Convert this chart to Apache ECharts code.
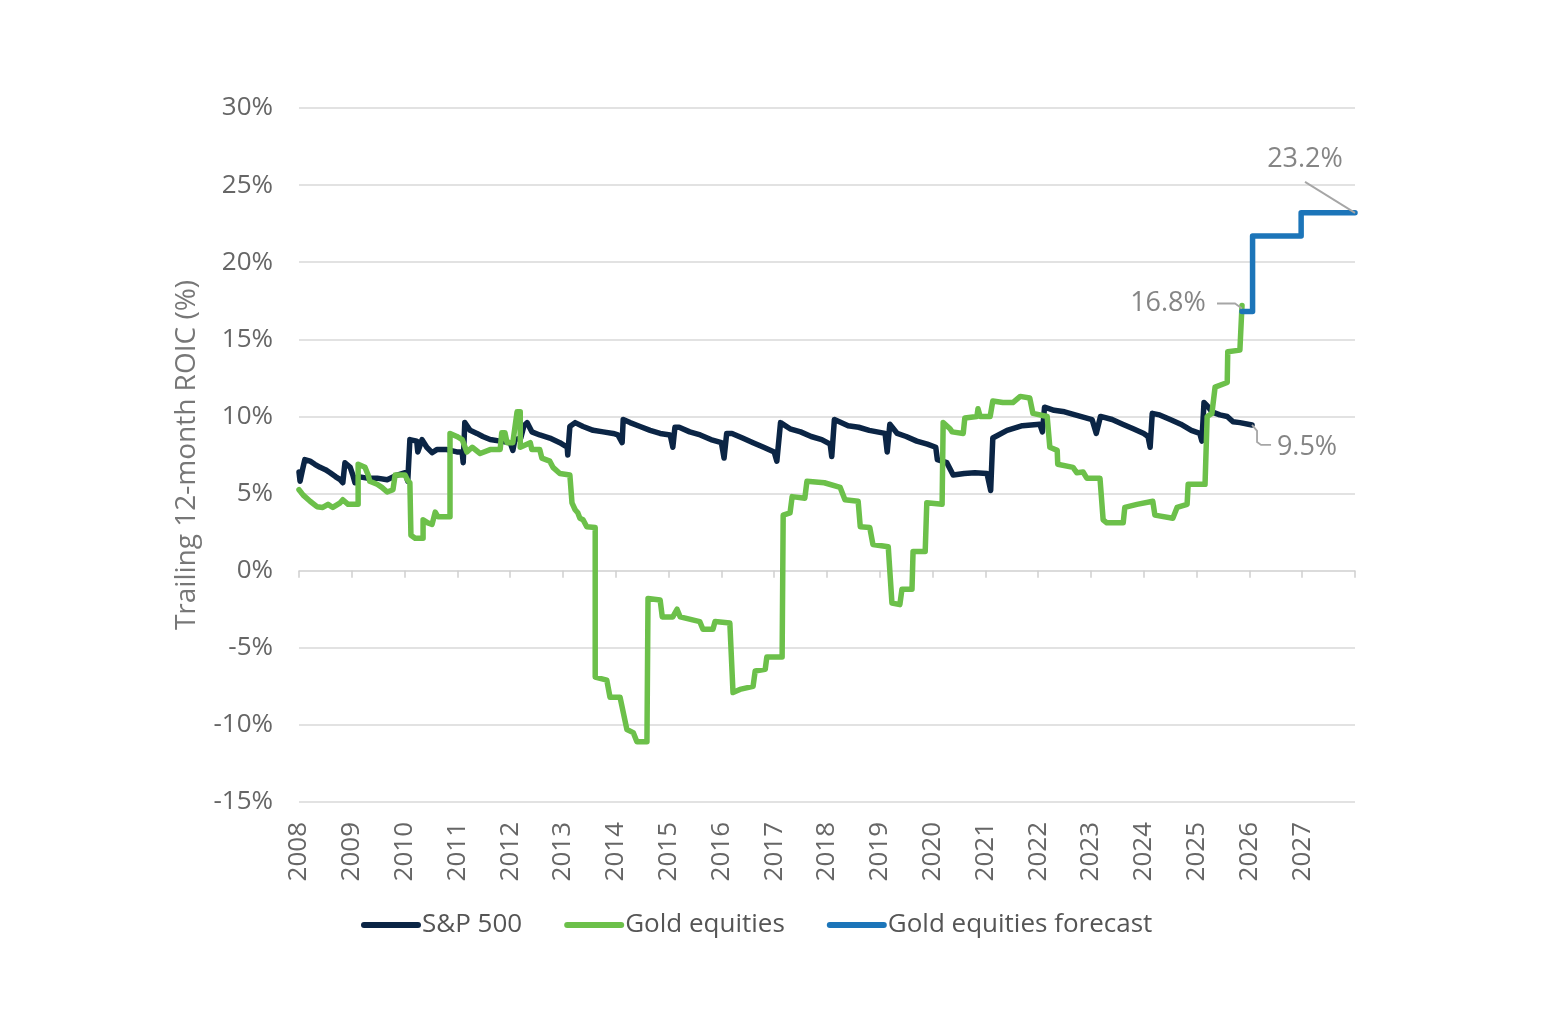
<!DOCTYPE html>
<html>
<head>
<meta charset="utf-8">
<script src="https://cdn.jsdelivr.net/npm/echarts@6/dist/echarts.min.js"></script>
<style>
html,body{margin:0;padding:0;background:#fff;}
#chart{width:1545px;height:1020px;}
</style>
</head>
<body>
<div id="chart"></div>
<script>
// ---- Data (year fraction, ROIC %) ----
const sp500 = [
[2008.00,6.4],[2008.02,5.8],[2008.07,6.6],[2008.11,7.2],[2008.21,7.1],[2008.30,6.9],[2008.40,6.7],[2008.50,6.55],[2008.59,6.35],[2008.69,6.1],[2008.78,5.9],[2008.83,5.7],[2008.87,7.0],[2008.97,6.7],[2009.02,6.2],[2009.06,5.7],[2009.12,6.1],[2009.29,6.0],[2009.48,6.0],[2009.67,5.9],[2009.86,6.2],[2010.01,6.35],[2010.06,5.8],[2010.10,8.5],[2010.23,8.4],[2010.25,7.7],[2010.33,8.5],[2010.42,8.0],[2010.52,7.65],[2010.61,7.85],[2010.80,7.85],[2010.99,7.7],[2011.09,7.7],[2011.11,7.0],[2011.14,9.6],[2011.24,9.1],[2011.37,8.9],[2011.48,8.7],[2011.62,8.5],[2011.81,8.4],[2012.00,8.3],[2012.05,7.8],[2012.09,8.5],[2012.20,8.6],[2012.26,9.4],[2012.32,9.6],[2012.41,9.0],[2012.56,8.8],[2012.75,8.6],[2012.94,8.3],[2013.08,8.0],[2013.09,7.5],[2013.13,9.35],[2013.23,9.6],[2013.38,9.35],[2013.57,9.1],[2013.76,9.0],[2013.95,8.9],[2014.04,8.8],[2014.12,8.3],[2014.14,9.8],[2014.27,9.6],[2014.46,9.35],[2014.65,9.1],[2014.84,8.9],[2015.03,8.8],[2015.08,8.0],[2015.12,9.3],[2015.20,9.3],[2015.40,9.0],[2015.60,8.8],[2015.80,8.5],[2016.00,8.3],[2016.05,7.3],[2016.10,8.9],[2016.20,8.9],[2016.40,8.6],[2016.60,8.3],[2016.80,8.0],[2017.00,7.7],[2017.05,7.1],[2017.12,9.6],[2017.30,9.2],[2017.50,9.0],[2017.70,8.7],[2017.90,8.5],[2018.06,8.2],[2018.09,7.4],[2018.14,9.8],[2018.40,9.4],[2018.60,9.3],[2018.80,9.1],[2019.10,8.9],[2019.14,7.7],[2019.19,9.5],[2019.33,8.9],[2019.50,8.7],[2019.70,8.4],[2019.90,8.2],[2020.06,8.0],[2020.09,7.2],[2020.27,7.0],[2020.39,6.2],[2020.60,6.3],[2020.80,6.35],[2021.03,6.3],[2021.10,5.2],[2021.14,8.6],[2021.41,9.1],[2021.70,9.4],[2022.03,9.5],[2022.08,9.0],[2022.12,10.6],[2022.30,10.4],[2022.50,10.3],[2022.70,10.1],[2023.02,9.8],[2023.10,8.9],[2023.18,10.0],[2023.40,9.8],[2023.60,9.5],[2023.80,9.2],[2024.00,8.9],[2024.08,8.7],[2024.12,8.0],[2024.16,10.2],[2024.30,10.1],[2024.50,9.8],[2024.70,9.5],[2024.90,9.1],[2025.06,8.9],[2025.10,8.4],[2025.14,10.9],[2025.20,10.7],[2025.29,10.3],[2025.44,10.1],[2025.58,10.0],[2025.69,9.65],[2025.82,9.6],[2026.05,9.45]
];

const goldEquities = [
[2008.00,5.25],[2008.08,4.9],[2008.21,4.5],[2008.34,4.15],[2008.45,4.1],[2008.55,4.3],[2008.64,4.1],[2008.78,4.4],[2008.83,4.6],[2008.93,4.3],[2009.12,4.3],[2009.12,6.9],[2009.25,6.7],[2009.31,6.2],[2009.34,5.8],[2009.48,5.6],[2009.57,5.4],[2009.67,5.1],[2009.78,5.25],[2009.82,6.2],[2010.01,6.2],[2010.05,5.9],[2010.10,5.7],[2010.12,2.3],[2010.20,2.1],[2010.35,2.1],[2010.35,3.3],[2010.44,3.1],[2010.52,3.0],[2010.58,3.8],[2010.63,3.5],[2010.86,3.5],[2010.86,8.9],[2010.99,8.7],[2011.09,8.5],[2011.18,7.7],[2011.28,8.0],[2011.43,7.6],[2011.62,7.85],[2011.81,7.85],[2011.84,8.95],[2011.90,8.95],[2011.94,8.3],[2012.05,8.3],[2012.13,10.3],[2012.19,10.3],[2012.19,8.0],[2012.38,8.3],[2012.41,7.85],[2012.56,7.85],[2012.60,7.3],[2012.75,7.1],[2012.81,6.7],[2012.94,6.3],[2013.13,6.2],[2013.17,4.4],[2013.23,3.95],[2013.28,3.75],[2013.32,3.4],[2013.38,3.3],[2013.45,2.85],[2013.61,2.8],[2013.61,-6.9],[2013.83,-7.1],[2013.89,-8.2],[2014.08,-8.2],[2014.21,-10.3],[2014.33,-10.5],[2014.40,-11.1],[2014.59,-11.1],[2014.61,-1.8],[2014.84,-1.9],[2014.88,-3.0],[2015.08,-3.0],[2015.16,-2.5],[2015.22,-3.0],[2015.59,-3.3],[2015.65,-3.8],[2015.84,-3.8],[2015.88,-3.3],[2016.16,-3.4],[2016.22,-7.9],[2016.35,-7.7],[2016.60,-7.5],[2016.64,-6.5],[2016.83,-6.4],[2016.86,-5.6],[2017.15,-5.6],[2017.17,3.6],[2017.30,3.75],[2017.34,4.8],[2017.58,4.7],[2017.62,5.8],[2017.95,5.7],[2018.25,5.4],[2018.34,4.6],[2018.59,4.5],[2018.63,2.85],[2018.81,2.8],[2018.87,1.7],[2019.16,1.55],[2019.23,-2.1],[2019.38,-2.2],[2019.42,-1.2],[2019.61,-1.2],[2019.63,1.25],[2019.86,1.25],[2019.89,4.4],[2020.18,4.3],[2020.20,9.6],[2020.33,9.2],[2020.37,9.0],[2020.58,8.9],[2020.61,9.9],[2020.84,10.0],[2020.86,10.5],[2020.90,10.0],[2021.09,10.0],[2021.14,11.0],[2021.33,10.9],[2021.52,10.9],[2021.66,11.3],[2021.84,11.2],[2021.90,10.2],[2022.17,10.0],[2022.22,8.0],[2022.36,7.8],[2022.37,6.9],[2022.66,6.7],[2022.73,6.35],[2022.85,6.4],[2022.92,6.0],[2023.17,6.0],[2023.23,3.3],[2023.30,3.1],[2023.61,3.1],[2023.64,4.1],[2023.87,4.3],[2024.17,4.5],[2024.21,3.6],[2024.55,3.4],[2024.63,4.1],[2024.82,4.3],[2024.84,5.6],[2025.16,5.6],[2025.20,10.0],[2025.29,10.2],[2025.35,11.9],[2025.58,12.2],[2025.59,14.2],[2025.82,14.3],[2025.86,17.2]
];

const goldForecast = [
[2025.86,16.8],[2026.06,16.8],[2026.06,21.7],[2026.98,21.7],[2026.98,23.2],[2028.00,23.2]
];

const yTicks = { min: -15, max: 30, step: 5 };
const xTicks = { min: 2008, max: 2028, step: 1 };

const seriesNames = ['S&P 500', 'Gold equities', 'Gold equities forecast'];
const seriesColors = ['#0b2545', '#6cc04a', '#1c75b9'];

// annotation points taken from the series ends
const annotations = [
  { point: goldForecast[goldForecast.length - 1], text: '23.2%' },
  { point: [goldForecast[0][0], 17.0], text: '16.8%' },
  { point: sp500[sp500.length - 1], text: '9.5%' }
];
// styling: label offsets and leader-line shapes (pixel offsets from the point)
const annStyle = [
  { dx: -50, dy: -54, leader: [[0, 0], [-50, -31]] },
  { dx: -74, dy: -5, leader: [[0, 0], [-7, -5], [-25, -5]] },
  { dx: 55, dy: 22, leader: [[0, 0], [5, 6], [5, 17], [9, 20], [19, 20]] }
];

const FONT = '"Open Sans", "Noto Sans", sans-serif';
const chart = echarts.init(document.getElementById('chart'));

const lineSeries = [sp500, goldEquities, goldForecast].map((d, i) => ({
  name: seriesNames[i],
  type: 'line',
  data: d,
  showSymbol: false,
  symbol: 'none',
  xAxisIndex: 0,
  lineStyle: { width: 5.5, color: seriesColors[i], join: 'round', cap: 'round' },
  itemStyle: { color: seriesColors[i] },
  z: 2 + i,
  silent: true,
  animation: false
}));

const annSeries = annotations.map((a, i) => ({
  type: 'scatter',
  name: 'ann' + i,
  data: [a.point],
  symbolSize: 0,
  xAxisIndex: 0,
  silent: true,
  animation: false,
  z: 10,
  label: {
    show: true,
    position: 'inside',
    formatter: a.text,
    fontSize: 27,
    color: '#666',
    fontFamily: FONT
  },
  labelLayout: { dx: annStyle[i].dx, dy: annStyle[i].dy }
}));

chart.setOption({
  backgroundColor: '#fff',
  animation: false,
  textStyle: { fontFamily: FONT },
  grid: { left: 299, right: 190, top: 108, bottom: 218, containLabel: false },
  legend: {
    data: seriesNames,
    left: 356,
    top: 907,
    itemWidth: 60,
    itemHeight: 6,
    itemGap: 42,
    icon: 'path://M3 0H57A3 3 0 0 1 57 6H3A3 3 0 0 1 3 0Z',
    textStyle: { fontSize: 26, color: '#555', fontFamily: FONT, padding: [0, 0, 0, -4] },
    selectedMode: false
  },
  xAxis: [
    {
      type: 'value',
      min: xTicks.min, max: xTicks.max, interval: xTicks.step,
      axisLine: { show: false, onZero: false },
      axisTick: { show: false },
      splitLine: { show: false },
      axisLabel: {
        rotate: 90,
        fontSize: 26,
        color: '#666',
        margin: 20,
        fontFamily: FONT,
        showMaxLabel: false,
        formatter: v => (v >= xTicks.max ? '' : String(v))
      }
    },
    {
      type: 'value',
      position: 'bottom',
      min: xTicks.min, max: xTicks.max, interval: xTicks.step,
      axisLine: { show: true, onZero: true, lineStyle: { color: '#d9d9d9', width: 1.5 } },
      axisTick: { show: true, length: 7, lineStyle: { color: '#cfcfcf', width: 1.5 } },
      splitLine: { show: false },
      axisLabel: { show: false }
    }
  ],
  yAxis: {
    type: 'value',
    min: yTicks.min, max: yTicks.max, interval: yTicks.step,
    name: 'Trailing 12-month ROIC (%)',
    nameLocation: 'middle',
    nameGap: 98,
    nameTextStyle: { fontSize: 28, color: '#777', fontFamily: FONT },
    axisLine: { show: false },
    axisTick: { show: false },
    splitLine: { lineStyle: { color: '#d9d9d9', width: 1.5 } },
    axisLabel: { fontSize: 26, color: '#666', margin: 26, fontFamily: FONT, formatter: '{value}%' }
  },
  series: [...lineSeries, ...annSeries]
});

// leader lines anchored to the data points through the chart's own scales
const leaders = annotations.map((a, i) => {
  const p = chart.convertToPixel({ xAxisIndex: 0, yAxisIndex: 0 }, a.point);
  return {
    type: 'polyline',
    silent: true,
    z: 20,
    shape: { points: annStyle[i].leader.map(o => [p[0] + o[0], p[1] + o[1]]) },
    style: { stroke: '#a6a6a6', lineWidth: 1.8, fill: null }
  };
});
chart.setOption({ graphic: leaders });
</script>
</body>
</html>
